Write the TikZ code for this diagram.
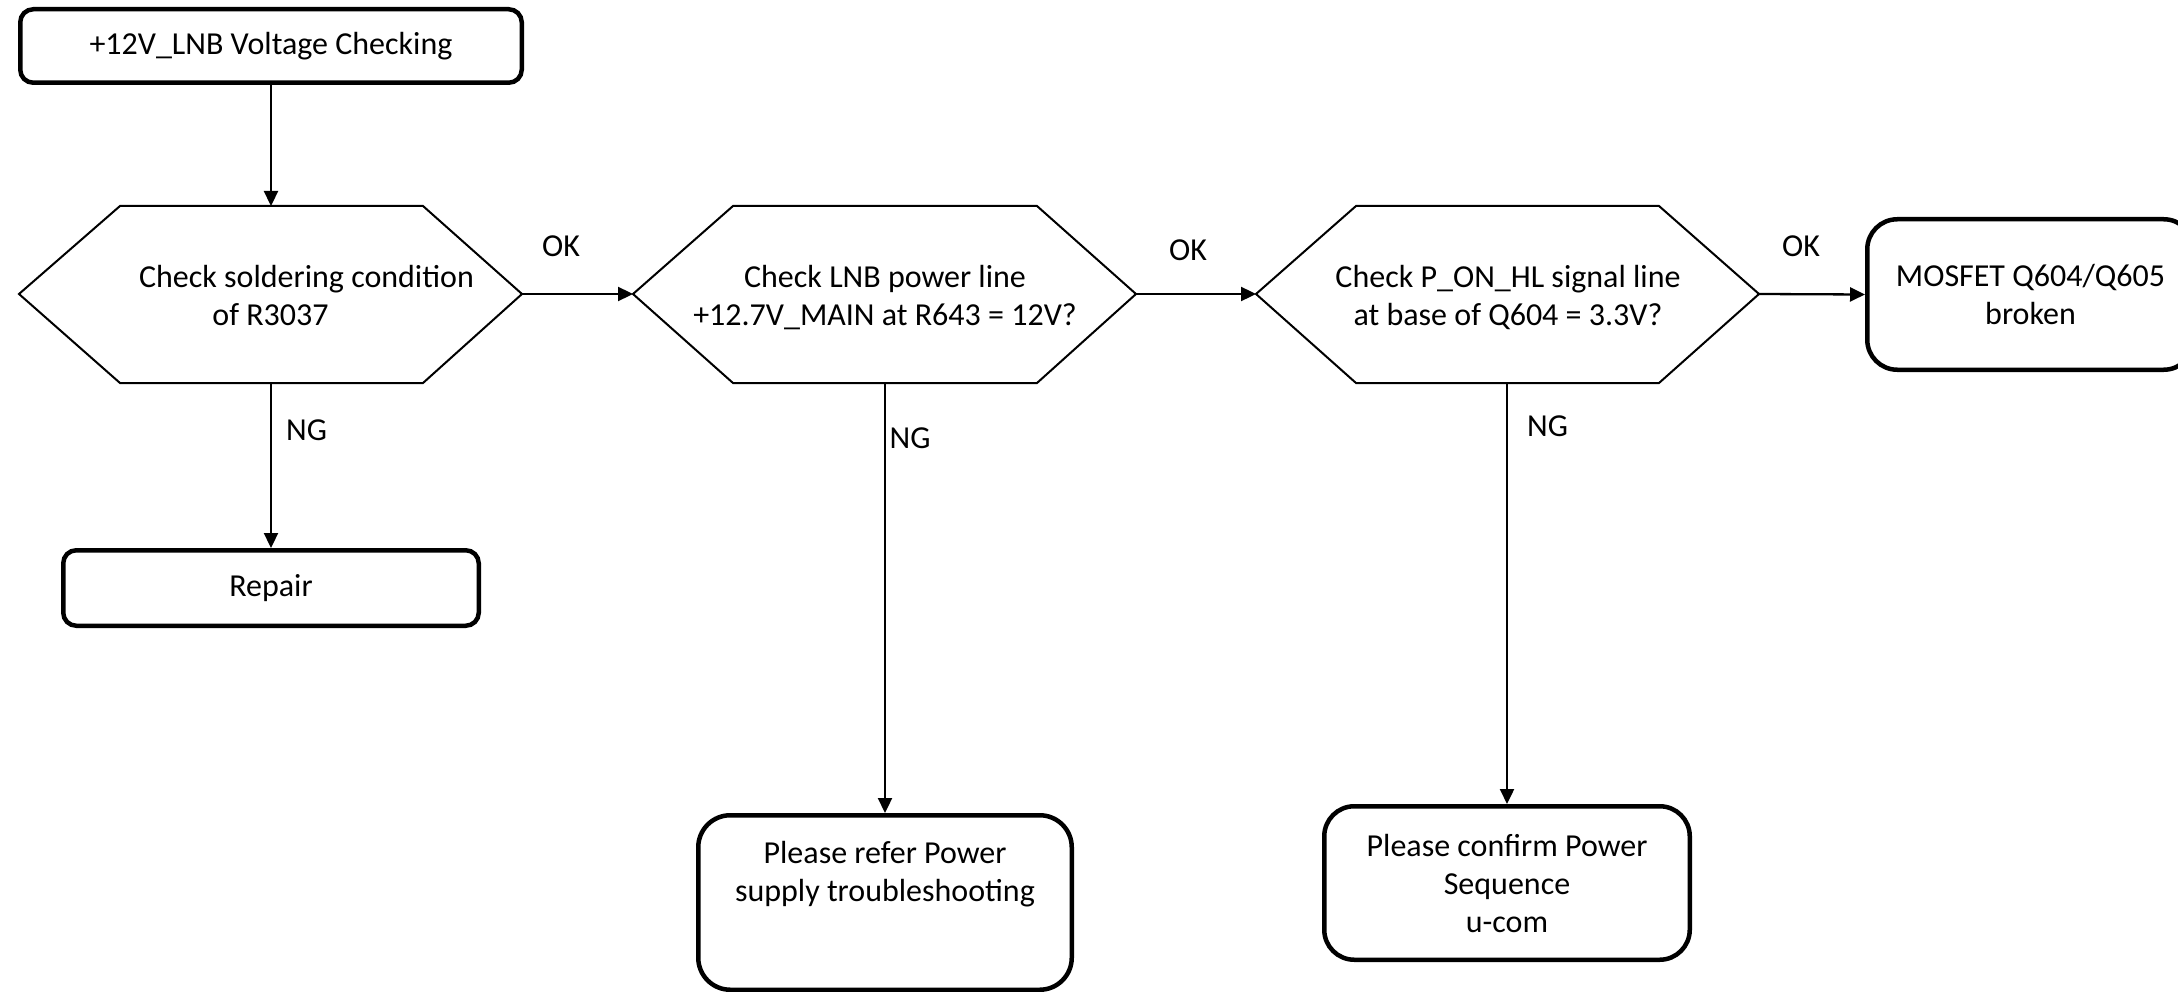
\documentclass[tikz,border=0pt]{standalone}
\usepackage{fontspec}
\setmainfont{Carlito}
\usetikzlibrary{arrows.meta}
\begin{document}
\begin{tikzpicture}[x=1pt,y=-1pt,
  every node/.style={font=\fontsize{32}{38}\selectfont, inner sep=0pt},
  termbox/.style={draw=black, line width=4.5pt, fill=white, align=center},
  hexshape/.style={draw=black, line width=2pt, line join=miter, fill=white},
  flow/.style={draw=black, line width=2.3pt, -{Triangle[length=15pt,width=14pt]}},
  hextext/.style={align=center, anchor=base},
  tag/.style={anchor=base}]
\useasboundingbox (0,0) rectangle (2178,992);
\clip (0,0) rectangle (2178,992);
\fill[white] (0,0) rectangle (2178,992);

% decision hexagons
\coordinate (h1w) at (19,294);  \coordinate (h1e) at (522,294);
\coordinate (h1n) at (271,206); \coordinate (h1s) at (271,383);
\coordinate (h2w) at (633,294); \coordinate (h2e) at (1136,294);
\coordinate (h2s) at (885,383);
\coordinate (h3w) at (1256,294); \coordinate (h3e) at (1759,294);
\coordinate (h3s) at (1507,383);

\draw[hexshape] (h1w) -- (120,206) -- (423,206) -- (h1e) -- (423,383) -- (120,383) -- cycle;
\draw[hexshape] (h2w) -- (733,206) -- (1037,206) -- (h2e) -- (1037,383) -- (733,383) -- cycle;
\draw[hexshape] (h3w) -- (1356,206) -- (1659,206) -- (h3e) -- (1659,383) -- (1356,383) -- cycle;

\node[hextext] (d1) at (270.5,325) {\hspace*{72pt}Check soldering condition\\of R3037};
\node[hextext] (d2) at (885,325) {Check LNB power line\\+12.7V\_MAIN at R643 = 12V?};
\node[hextext] (d3) at (1508,325) {Check P\_ON\_HL signal line\\at base of Q604 = 3.3V?};

% terminal boxes
\node[termbox, rounded corners=13pt, minimum width=501.5pt, minimum height=73.5pt] (start) at (271,46) {+12V\_LNB Voltage Checking};
\node[termbox, rounded corners=13pt, minimum width=415.5pt, minimum height=75.5pt] (repair) at (271,588) {Repair};
\node[termbox, rounded corners=30pt, minimum width=326.5pt, minimum height=150.5pt] (mos) at (2030.5,294.5) {MOSFET Q604/Q605\\broken};
\node[termbox, rounded corners=32pt, minimum width=373.5pt, minimum height=174.5pt] (b2) at (885,902.5) {Please refer Power\\supply troubleshooting\\\rule[-25pt]{0pt}{25pt}};
\node[termbox, rounded corners=30pt, minimum width=365.5pt, minimum height=153.5pt] (b3) at (1507,883) {Please confirm Power\\Sequence\\u-com};

% connectors
\draw[flow] (start.south) -- (h1n);
\draw[flow] (h1e) -- (h2w);
\draw[flow] (h2e) -- (h3w);
\draw[flow] (h3e) -- (mos.west);
\draw[flow] (h1s) -- (repair.north);
\draw[flow] (h2s) -- (b2.north);
\draw[flow] (h3s) -- (b3.north);

% labels
\node[tag] (ok1) at (561,257) {OK};
\node[tag] (ok2) at (1188,261) {OK};
\node[tag] (ok3) at (1801,257) {OK};
\node[tag] (ng1) at (306.5,440) {NG};
\node[tag] (ng2) at (910,448) {NG};
\node[tag] (ng3) at (1547.5,436) {NG};
\end{tikzpicture}
\end{document}
